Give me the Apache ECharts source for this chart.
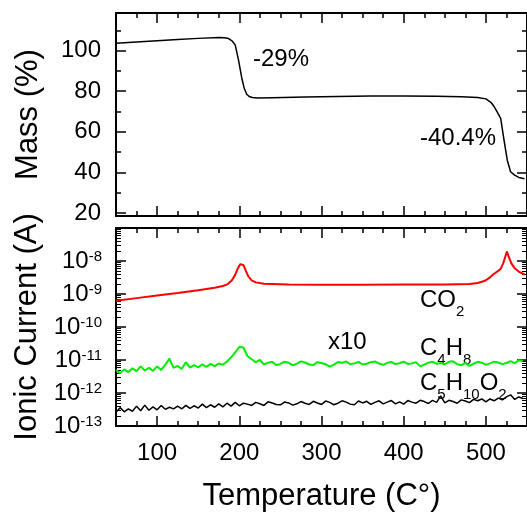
<!DOCTYPE html>
<html>
<head>
<meta charset="utf-8">
<script src="https://cdn.jsdelivr.net/npm/echarts@6/dist/echarts.min.js"></script>
<style>
  html, body { margin: 0; padding: 0; background: #fff; }
  #chart { width: 527px; height: 513px; }
</style>
</head>
<body>
<div id="chart"></div>
<script>
// TGA curve: temperature (°C) -> mass (%)
let massTemps = [50, 75, 100, 125, 150, 175, 182, 187, 191, 195, 199, 203, 206, 209, 212, 216, 222, 240, 280, 320,
  360, 400, 440, 470, 490, 500, 506, 510, 514, 518, 522, 526, 530, 535, 540, 547];
let massValues = [103.6, 104.2, 104.8, 105.4, 106, 106.4, 106.3, 105.9, 104.8, 102.8, 95.4, 86.5, 81.4, 78.5, 77.4, 76.9, 76.6, 76.8, 77.1, 77.4,
  77.6, 77.6, 77.5, 77.3, 76.9, 76.2, 74.5, 72.4, 69.5, 66.6, 56, 46, 40.3, 38.6, 37.5, 36.8];

// ionic currents, all in pA
let co2Temps = [50, 75, 100, 125, 150, 170, 180, 186, 191, 195, 198, 201, 203, 205, 208, 211, 215, 220, 230, 260,
  300, 350, 400, 450, 480, 490, 496, 500, 505, 510, 515, 518, 521, 523, 525.5, 528, 531, 535, 540, 547];
let co2Values = [620, 750, 900, 1080, 1300, 1550, 1750, 2000, 2600, 3800, 5800, 8000, 8800, 7600, 5000, 3400, 2600, 2250, 2050, 1950,
  1920, 1920, 1930, 1950, 2000, 2150, 2400, 2600, 3200, 4100, 5000, 5800, 8500, 12000, 19500, 13000, 8500, 6000, 4800, 3900];

let ionTemps = [50, 55, 60, 65, 70, 75, 80, 85, 90, 95,
  100, 105, 110, 115, 120, 125, 130, 135, 140, 145,
  150, 155, 160, 165, 170, 175, 180, 185, 190, 195,
  200, 205, 210, 215, 220, 225, 230, 235, 240, 245,
  250, 255, 260, 265, 270, 275, 280, 285, 290, 295,
  300, 305, 310, 315, 320, 325, 330, 335, 340, 345,
  350, 355, 360, 365, 370, 375, 380, 385, 390, 395,
  400, 405, 410, 415, 420, 425, 430, 435, 440, 445,
  450, 455, 460, 465, 470, 475, 480, 485, 490, 495,
  500, 505, 510, 515, 520, 525, 530, 535, 540, 545];
// C4H8 is drawn x10
let c4h8Values = [5.0, 4.0, 5.2, 4.3, 5.6, 4.6, 6.4, 4.8, 5.8, 4.7,
  6.4, 5.0, 7.2, 11, 5.8, 6.6, 5.4, 8.6, 5.9, 7.0,
  6.0, 7.4, 6.2, 7.6, 6.5, 7.8, 7.2, 9.0, 12, 17,
  25, 24, 13, 10.5, 8.6, 10, 7.4, 8.2, 8.8, 7.0,
  7.6, 8.9, 8.3, 6.9, 7.8, 9.1, 8.4, 7.3, 7.0, 8.6,
  8.1, 7.4, 6.3, 7.2, 8.7, 8.2, 9.0, 7.5, 7.9, 8.8,
  7.3, 7.7, 8.6, 9.0, 7.8, 7.1, 8.2, 8.7, 7.5, 8.0,
  8.9, 7.6, 7.9, 8.6, 6.4, 7.2, 8.3, 8.9, 7.7, 8.1,
  7.4, 8.8, 9.1, 7.5, 6.9, 8.2, 6.6, 7.7, 8.8, 8.3,
  7.2, 7.9, 8.9, 8.4, 7.5, 8.1, 9.2, 8.0, 9.8, 9.4];
let c5h10o2Values = [0.26, 0.36, 0.27, 0.33, 0.28, 0.40, 0.29, 0.43, 0.30, 0.38,
  0.31, 0.42, 0.32, 0.37, 0.33, 0.40, 0.33, 0.42, 0.34, 0.41,
  0.35, 0.46, 0.36, 0.44, 0.37, 0.47, 0.38, 0.49, 0.40, 0.52,
  0.41, 0.49, 0.46, 0.42, 0.52, 0.47, 0.42, 0.54, 0.50, 0.45,
  0.44, 0.53, 0.50, 0.43, 0.47, 0.55, 0.49, 0.45, 0.56, 0.50,
  0.45, 0.57, 0.52, 0.44, 0.49, 0.58, 0.53, 0.46, 0.44, 0.57,
  0.50, 0.56, 0.45, 0.52, 0.58, 0.47, 0.53, 0.59, 0.47, 0.54,
  0.46, 0.59, 0.53, 0.49, 0.60, 0.55, 0.48, 0.60, 0.52, 0.82,
  0.50, 0.60, 0.55, 0.49, 0.62, 0.57, 0.51, 0.64, 0.58, 0.66,
  0.54, 0.66, 0.58, 0.70, 0.62, 0.76, 0.88, 0.64, 0.76, 0.68];

// tick positions
let tempMajor = [100, 200, 300, 400, 500];
let tempMinor = [75, 125, 150, 175, 225, 250, 275, 325, 350, 375, 425, 450, 475, 525];
let massMajor = [20, 40, 60, 80, 100];
let massMinor = [30, 50, 70, 90, 110];

const FONT = '"Liberation Sans", Arial, sans-serif';
const BLACK = '#000';

function zip(xs, ys) {
  return xs.map((x, i) => [x, ys[i]]);
}

function line(w) {
  return { color: BLACK, width: w };
}

function tempAxis(grid, pos, ticks, len, labels) {
  return {
    type: 'value', gridIndex: grid, position: pos, min: 50, max: 550,
    axisLine: { show: true, onZero: false, lineStyle: line(2) },
    axisTick: { show: true, inside: true, length: len, customValues: ticks, lineStyle: line(1.5) },
    axisLabel: { show: labels, customValues: ticks, margin: 15, color: BLACK, fontSize: 24, fontFamily: FONT },
    splitLine: { show: false }
  };
}

function massAxis(pos, ticks, len, labels) {
  return {
    type: 'value', gridIndex: 0, position: pos, min: 18.5, max: 118.5,
    axisLine: { show: true, onZero: false, lineStyle: line(2) },
    axisTick: { show: true, inside: true, length: len, customValues: ticks, lineStyle: line(1.5) },
    axisLabel: { show: labels, customValues: ticks, margin: 15, color: BLACK, fontSize: 24, fontFamily: FONT },
    splitLine: { show: false }
  };
}

// 0.1 pA .. 1e5 pA  ==  1e-13 A .. 1e-7 A
function ionAxis(pos, labels) {
  return {
    type: 'log', logBase: 10, gridIndex: 1, position: pos, min: 0.1, max: 1e5,
    axisLine: { show: true, onZero: false, lineStyle: line(2) },
    axisTick: { show: true, inside: true, length: 10, lineStyle: line(1.5) },
    minorTick: { show: true, splitNumber: 9, length: 5, lineStyle: line(1) },
    axisLabel: {
      show: labels, margin: 14, color: BLACK, fontFamily: FONT,
      formatter: function (v) {
        let e = Math.round(Math.log10(v)) - 12;
        if (e > -8) return '';
        return '{m|10}{s|' + e + '}';
      },
      rich: {
        m: { fontSize: 24, lineHeight: 24, verticalAlign: 'bottom', fontFamily: FONT, color: BLACK },
        s: { fontSize: 15, lineHeight: 15, verticalAlign: 'top', fontFamily: FONT, color: BLACK }
      }
    },
    splitLine: { show: false }
  };
}

function formula(x, y, text) {
  return {
    type: 'text', x: x, y: y,
    style: {
      text: text, align: 'left', verticalAlign: 'top', fill: BLACK,
      rich: {
        m: { fontSize: 24, lineHeight: 24, verticalAlign: 'top', fontFamily: FONT, fill: BLACK },
        s: { fontSize: 15, lineHeight: 31, verticalAlign: 'bottom', fontFamily: FONT, fill: BLACK }
      }
    }
  };
}

function label(x, y, text) {
  return {
    type: 'text', x: x, y: y,
    style: { text: text, align: 'left', verticalAlign: 'middle', fill: BLACK, fontSize: 24, fontFamily: FONT }
  };
}

let myChart = echarts.init(document.getElementById('chart'));

let xAxes = [
  tempAxis(0, 'bottom', tempMajor, 10, false),
  tempAxis(0, 'bottom', tempMinor, 5, false),
  tempAxis(0, 'top', tempMajor, 10, false),
  tempAxis(0, 'top', tempMinor, 5, false),
  tempAxis(1, 'bottom', tempMajor, 10, true),
  tempAxis(1, 'bottom', tempMinor, 5, false),
  tempAxis(1, 'top', tempMajor, 10, false),
  tempAxis(1, 'top', tempMinor, 5, false)
];
xAxes[4].name = 'Temperature (C°)';
xAxes[4].nameLocation = 'middle';
xAxes[4].nameGap = 55;
xAxes[4].nameTextStyle = { fontSize: 31, fontFamily: FONT, color: BLACK };

let yAxes = [
  massAxis('left', massMajor, 10, true),
  massAxis('left', massMinor, 5, false),
  massAxis('right', massMajor, 10, false),
  massAxis('right', massMinor, 5, false),
  ionAxis('left', true),
  ionAxis('right', false)
];
yAxes[0].name = 'Mass (%)';
yAxes[4].name = 'Ionic Current (A)';
[0, 4].forEach(function (i) {
  yAxes[i].nameLocation = 'middle';
  yAxes[i].nameGap = 72;
  yAxes[i].nameTextStyle = { fontSize: 31, fontFamily: FONT, color: BLACK };
});

let option = {
  animation: false,
  backgroundColor: '#fff',
  grid: [
    { left: 116, top: 13, width: 416, height: 203 },
    { left: 116, top: 228, width: 416, height: 201 }
  ],
  xAxis: xAxes,
  yAxis: yAxes,
  series: [
    {
      name: 'Mass', type: 'line', xAxisIndex: 0, yAxisIndex: 0,
      data: zip(massTemps, massValues), showSymbol: false, symbol: 'none',
      lineStyle: { color: BLACK, width: 1.5 }
    },
    {
      name: 'CO2', type: 'line', xAxisIndex: 4, yAxisIndex: 4,
      data: zip(co2Temps, co2Values), showSymbol: false, symbol: 'none',
      lineStyle: { color: '#ff0000', width: 2 }
    },
    {
      name: 'C4H8', type: 'line', xAxisIndex: 4, yAxisIndex: 4,
      data: zip(ionTemps, c4h8Values), showSymbol: false, symbol: 'none',
      lineStyle: { color: '#00ee00', width: 2 }
    },
    {
      name: 'C5H10O2', type: 'line', xAxisIndex: 4, yAxisIndex: 4,
      data: zip(ionTemps, c5h10o2Values), showSymbol: false, symbol: 'none',
      lineStyle: { color: BLACK, width: 1.5 }
    }
  ],
  graphic: [
    label(253, 59, '-29%'),
    label(420, 138, '-40.4%'),
    label(328, 342, 'x10'),
    formula(420, 288, '{m|CO}{s|2}'),
    formula(420, 336, '{m|C}{s|4}{m|H}{s|8}'),
    formula(420, 371, '{m|C}{s|5}{m|H}{s|10}{m|O}{s|2}')
  ]
};
myChart.setOption(option);
</script>
</body>
</html>
